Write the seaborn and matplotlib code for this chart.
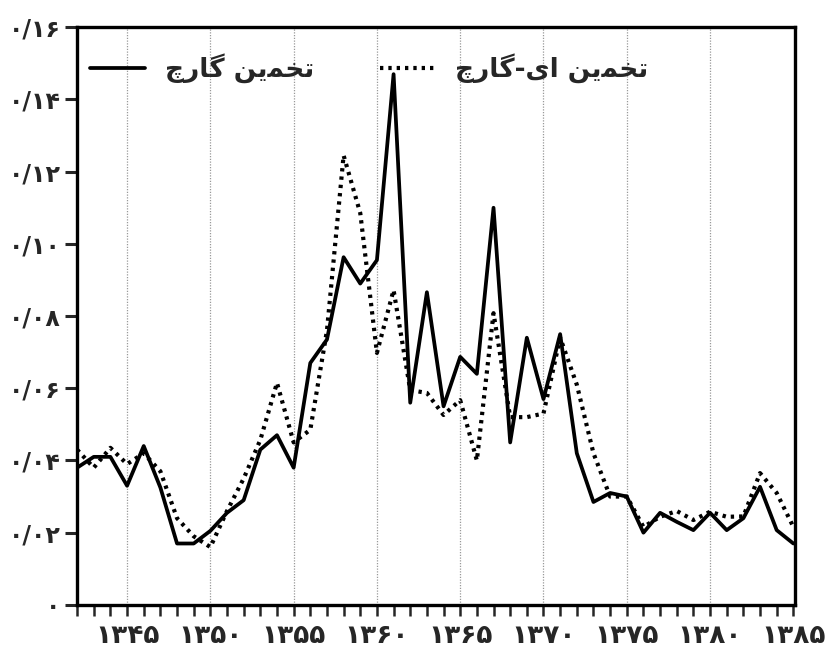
import numpy as np
import pandas as pd
import matplotlib
matplotlib.use("Agg")
import matplotlib.pyplot as plt
import seaborn as sns

# years 1342..1385 (solar hijri)
years = list(range(1342, 1386))

garch = [0.038, 0.041, 0.041, 0.033, 0.044, 0.0325, 0.017, 0.017, 0.0205, 0.0255,
         0.029, 0.043, 0.047, 0.038, 0.067, 0.0735, 0.0963, 0.089, 0.0955, 0.147,
         0.056, 0.0866, 0.055, 0.0687, 0.064, 0.110, 0.045, 0.074, 0.057, 0.075,
         0.042, 0.0285, 0.031, 0.030, 0.020, 0.0255, 0.023, 0.0207, 0.0255, 0.0207,
         0.024, 0.0327, 0.0207, 0.017]

egarch = [0.043, 0.038, 0.0435, 0.039, 0.042, 0.037, 0.024, 0.019, 0.016, 0.026,
          0.035, 0.0457, 0.0615, 0.045, 0.0485, 0.076, 0.1245, 0.1085, 0.0698, 0.0872,
          0.0595, 0.0587, 0.0526, 0.0567, 0.040, 0.0808, 0.052, 0.052, 0.053, 0.074,
          0.061, 0.042, 0.030, 0.030, 0.0216, 0.0244, 0.026, 0.0235, 0.0258, 0.0244,
          0.0245, 0.0365, 0.031, 0.0216]

# legend labels, written as presentation forms in visual order (matplotlib has no shaping)
label_garch = "\ufb7a\ufead\ufe8e\ufb94 \ufee6\ufbfe\ufee4\ufea8\ufe97"      # تخمین گارچ
label_egarch = "\ufb7a\ufead\ufe8e\ufb94-\ufbfc\ufe8d \ufee6\ufbfe\ufee4\ufea8\ufe97"  # تخمین ای-گارچ

fa_digits = str.maketrans("0123456789", "۰۱۲۳۴۵۶۷۸۹")
ytick_vals = [0, 0.02, 0.04, 0.06, 0.08, 0.10, 0.12, 0.14, 0.16]
ytick_text = ["۰"] + [("0/%02d" % round(v * 100)).translate(fa_digits) for v in ytick_vals[1:]]
xtick_vals = list(range(1345, 1386, 5))
xtick_text = [str(v).translate(fa_digits) for v in xtick_vals]

df = pd.DataFrame({"year": years, "garch": garch, "egarch": egarch})

sns.set_style("white")
plt.rcParams["font.family"] = ["DejaVu Sans"]
plt.rcParams["font.weight"] = "bold"

fig = plt.figure(figsize=(8.29, 6.49), dpi=100)
ax = fig.add_axes([0.093, 0.068, 0.866, 0.890])

sns.lineplot(data=df, x="year", y="garch", ax=ax, color="black", lw=2.7,
             label=label_garch)
sns.lineplot(data=df, x="year", y="egarch", ax=ax, color="black", lw=3.0,
             linestyle=(0, (0.8, 1.2)), label=label_egarch)

ax.set_xlim(1342, 1385.1)
ax.set_ylim(0, 0.16)
ax.set_xticks(xtick_vals)
ax.set_xticklabels(xtick_text, fontsize=19, fontweight="bold")
ax.set_xticks(years, minor=True)
ax.set_yticks(ytick_vals)
ax.set_yticklabels(ytick_text, fontsize=17, fontweight="bold")
ax.set_xlabel("")
ax.set_ylabel("")

for v in xtick_vals[:-1]:
    ax.axvline(v, color="#999999", lw=0.9, linestyle=(0, (1, 1.2)), zorder=0)

for s in ax.spines.values():
    s.set_linewidth(2.4)
    s.set_color("black")

ax.tick_params(axis="y", which="major", direction="out", length=9, width=2.2, pad=3)
ax.tick_params(axis="x", which="both", direction="out", length=8, width=1.8, pad=5)
ax.tick_params(left=True, bottom=True)
ax.tick_params(axis="x", which="minor", bottom=True)

leg = ax.legend(loc="center left", ncol=2, frameon=False, fontsize=19,
                handlelength=2.1, handletextpad=0.75, columnspacing=2.5,
                bbox_to_anchor=(0.003, 0.929), borderaxespad=0)
for t in leg.get_texts():
    t.set_fontweight("bold")

fig.savefig("out.png", dpi=100)
